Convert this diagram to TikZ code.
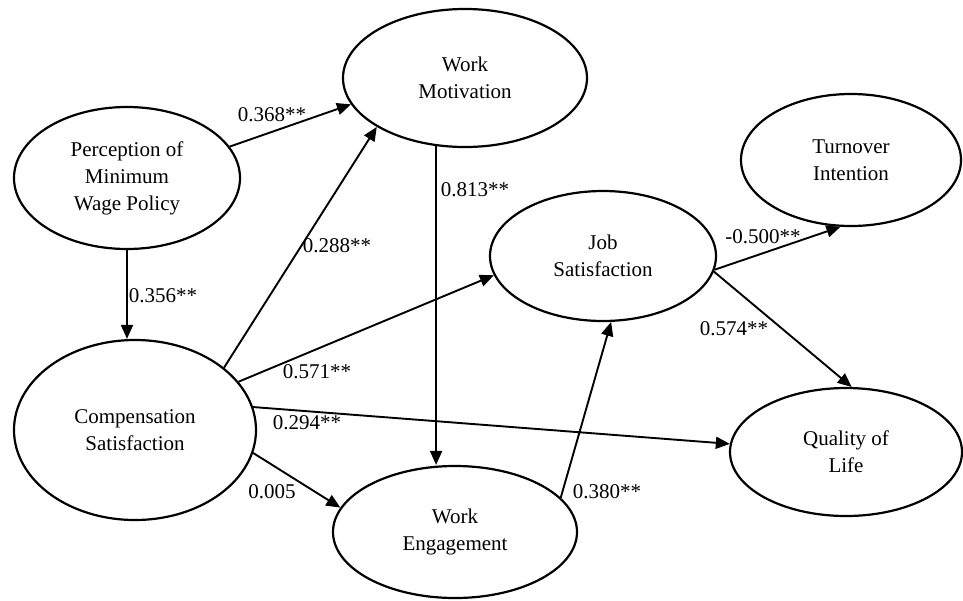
\documentclass[tikz,border=0pt]{standalone}
\usepackage{fontspec}
\setmainfont{Liberation Serif}
\usetikzlibrary{shapes.geometric,arrows.meta}

\tikzset{
  latent/.style={draw, ellipse, line width=2.2pt, inner sep=0pt, align=center},
  path/.style={line width=1.9pt, -{Triangle[length=14pt,width=12pt]}},
  coef/.style={inner sep=0pt}
}

\begin{document}
\begin{tikzpicture}[x=1pt, y=-1pt, font=\fontsize{21}{27}\selectfont]
\useasboundingbox (0,0) rectangle (963,600);
% constructs
\node [latent, minimum width=226pt, minimum height=142pt] (perc) at (127,178) {Perception of\\Minimum\\Wage Policy};
\node [latent, minimum width=244pt, minimum height=138pt] (motiv) at (465,78) {Work\\Motivation};
\node [latent, minimum width=220pt, minimum height=132pt] (turn) at (851,160) {Turnover\\Intention};
\node [latent, minimum width=226pt, minimum height=130pt] (jobsat) at (603,256) {Job\\Satisfaction};
\node [latent, minimum width=242pt, minimum height=180pt] (comp) at (135,430) {Compensation\\Satisfaction};
\node [latent, minimum width=232pt, minimum height=128pt] (qol) at (846,452) {Quality of\\Life};
\node [latent, minimum width=244pt, minimum height=132pt] (engage) at (455,532) {Work\\Engagement};
% paths
\draw [path] (perc.17) -- (motiv.193);
\draw [path] (perc.south) -- (perc.south |- comp.north);
\draw [path] (comp.35) -- (motiv.209);
\draw [path] (motiv.247) -- (motiv.247 |- engage.north);
\draw [path] (comp.25) -- (jobsat.190);
\draw [path] (comp.11) -- (qol.176);
\draw [path] (comp.-11) -- (engage.168);
\draw [path] (engage.18) -- (jobsat.277);
\draw [path] (jobsat.-7) -- (turn.261);
\draw [path] (jobsat.-8) -- (qol.85);
% coefficients
\node [coef] (c1) at (272,115) {0.368**};
\node [coef] (c2) at (163,296) {0.356**};
\node [coef] (c3) at (337,246) {0.288**};
\node [coef] (c4) at (475,190) {0.813**};
\node [coef] (c5) at (317,372) {0.571**};
\node [coef] (c6) at (307,423) {0.294**};
\node [coef] (c7) at (272,492) {0.005};
\node [coef] (c8) at (607,492) {0.380**};
\node [coef] (c9) at (763,237) {-0.500**};
\node [coef] (c10) at (734,329) {0.574**};
\end{tikzpicture}
\end{document}
